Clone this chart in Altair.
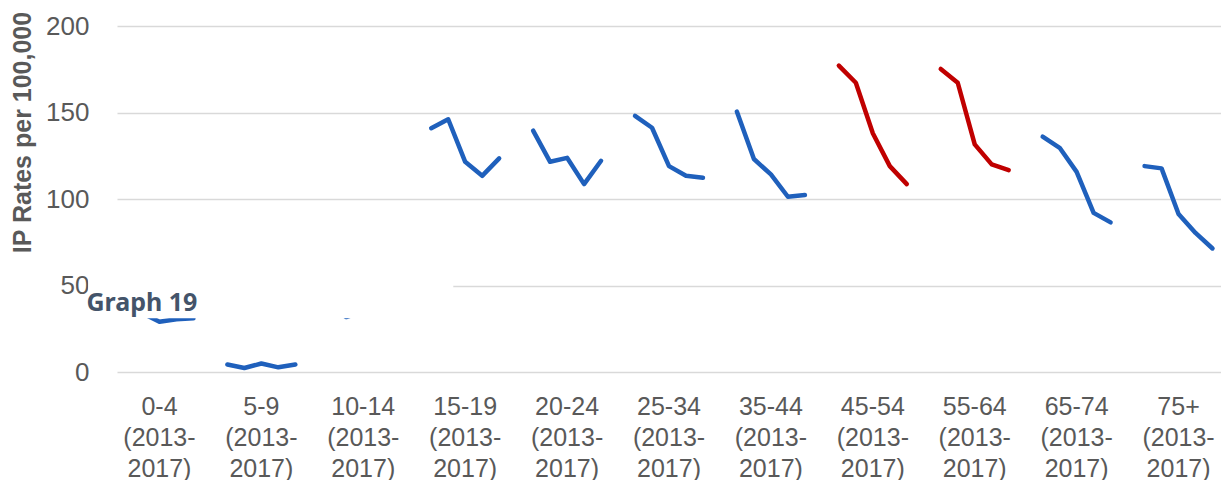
import altair as alt
import pandas as pd

categories = ["0-4", "5-9", "10-14", "15-19", "20-24", "25-34",
              "35-44", "45-54", "55-64", "65-74", "75+"]
years = [2013, 2014, 2015, 2016, 2017]
rates = [
    [37.0, 34.0, 29.0, 30.5, 31.0],        # 0-4 (partly hidden)
    [4.3, 2.3, 4.9, 2.7, 4.3],             # 5-9
    [38.0, 31.8, 35.0, 37.0, 36.0],        # 10-14 (hidden)
    [140.9, 146.1, 121.5, 113.4, 123.5],   # 15-19
    [139.5, 121.5, 123.8, 108.6, 122.1],   # 20-24
    [148.1, 141.2, 119.0, 113.4, 112.3],   # 25-34
    [150.5, 123.1, 114.2, 101.3, 102.3],   # 35-44
    [177.1, 167.2, 138.0, 119.0, 108.6],   # 45-54
    [175.2, 167.2, 131.6, 120.0, 116.7],   # 55-64
    [136.0, 129.6, 115.7, 92.0, 86.5],     # 65-74
    [119.0, 117.7, 91.3, 80.4, 71.4],      # 75+
]
highlight = ["no", "no", "no", "no", "no", "no", "no", "yes", "yes", "no", "no"]
y_ticks = [0, 50, 100, 150, 200]

# annotation box ("Graph 19" text box with white fill)
box_x = [-2.2, 19.3]
box_y = [31.0, 58.0]
note_text = "Graph 19"
note_x = -2.3
note_y = 35.3

rows = []
for g, cat in enumerate(categories):
    for j, yr in enumerate(years):
        rows.append({"slot": g * 6 + j, "group": cat, "year": yr,
                     "rate": rates[g][j], "hl": highlight[g]})
df = pd.DataFrame(rows)

lab = pd.DataFrame({
    "slot": [g * 6 + 2 for g in range(len(categories))],
    "label": [f"{c}\n(2013-\n2017)" for c in categories],
})

xs = alt.Scale(domain=[-0.5, 64.5], nice=False, zero=False)
ys = alt.Scale(domain=[0, 200], nice=False)

lines = alt.Chart(df).mark_line(strokeWidth=4.5, strokeCap="round", strokeJoin="round").encode(
    x=alt.X("slot:Q", scale=xs, axis=None),
    y=alt.Y("rate:Q", scale=ys, axis=alt.Axis(values=y_ticks, title="IP Rates per 100,000")),
    detail="group:N",
    color=alt.Color("hl:N", scale=alt.Scale(domain=["no", "yes"], range=["#1F60BC", "#C00000"]), legend=None),
    order="slot:Q",
)

box = alt.Chart(pd.DataFrame({"x": [box_x[0]], "x2": [box_x[1]], "y": [box_y[0]], "y2": [box_y[1]]})).mark_rect(
    fill="white", stroke=None).encode(
    x=alt.X("x:Q", scale=xs), x2="x2:Q",
    y=alt.Y("y:Q", scale=ys), y2="y2:Q")

note = alt.Chart(pd.DataFrame({"x": [note_x], "y": [note_y], "t": [note_text]})).mark_text(
    align="left", baseline="alphabetic", font="Noto Sans", fontSize=25, fontWeight="bold",
    color="#44546A").encode(
    x=alt.X("x:Q", scale=xs), y=alt.Y("y:Q", scale=ys), text="t:N")

labels = alt.Chart(lab).mark_text(
    align="center", baseline="alphabetic", font="Liberation Sans", fontSize=25,
    color="#595959", lineBreak="\n", lineHeight=31).encode(
    x=alt.X("slot:Q", scale=xs), y=alt.value(389), text="label:N")

chart = alt.layer(lines, box, note, labels).properties(
    width=1104, height=346,
    autosize=alt.AutoSizeParams(type="none"),
    padding={"left": 109, "top": 18, "right": 0, "bottom": 108},
    background="white",
).configure_view(stroke=None).configure_axisX(
    disable=True
).configure_axisY(
    grid=True, gridColor="#d9d9d9", gridWidth=1.5, domain=False,
    ticks=True, tickSize=27, tickOpacity=0, labelPadding=1,
    labelFont="Liberation Sans", labelFontSize=26, labelColor="#595959",
    titleFont="Liberation Sans", titleFontSize=25, titleFontWeight="bold",
    titleColor="#595959", titleAngle=270, titleX=-95, titleY=106,
    titleAlign="center", titleBaseline="middle",
)

chart.save("out.html", embed_options={"renderer": "svg", "actions": False})
